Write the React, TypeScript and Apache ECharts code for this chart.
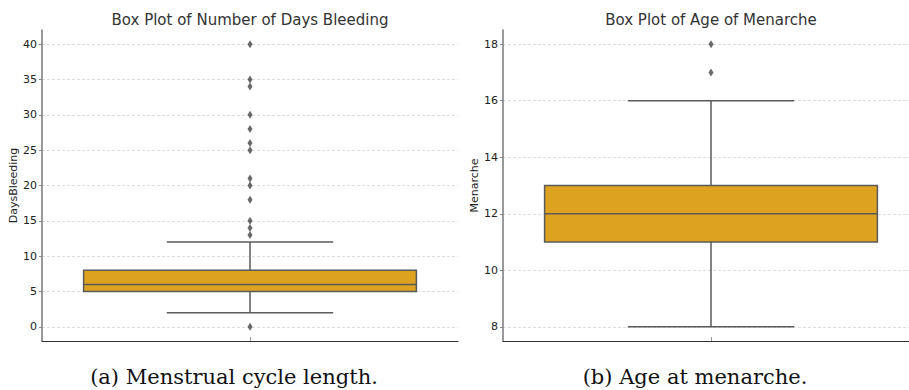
import React, { useEffect, useRef } from "react";
import * as echarts from "echarts";

// Five-number summaries: [lower whisker, Q1, median, Q3, upper whisker]
const daysCategories = ["DaysBleeding"];
const daysStats = [2, 5, 6, 8, 12];
const daysOutliers = [0, 13, 14, 15, 18, 20, 21, 25, 26, 28, 30, 34, 35, 40];
const daysTicks = [0, 5, 10, 15, 20, 25, 30, 35, 40];

const menCategories = ["Menarche"];
const menStats = [8, 11, 12, 13, 16];
const menOutliers = [17, 18];
const menTicks = [8, 10, 12, 14, 16, 18];

const titles = ["Box Plot of Number of Days Bleeding", "Box Plot of Age of Menarche"];
const captions = ["(a) Menstrual cycle length.", "(b) Age at menarche."];

const FONT = "DejaVu Sans";
const BOX_FILL = "#DDA21F";
const LINE = "#5a5a5a";

function renderBox(params: any, api: any) {
  const x = api.value(0);
  const lo = api.coord([x, api.value(1)]);
  const q1 = api.coord([x, api.value(2)]);
  const md = api.coord([x, api.value(3)]);
  const q3 = api.coord([x, api.value(4)]);
  const hi = api.coord([x, api.value(5)]);
  const band = api.size([1, 0])[0];
  const bh = band * 0.4;
  const ch = band * 0.2;
  const cx = md[0];
  const ls = { stroke: LINE, lineWidth: 1.5, fill: "none" };
  return {
    type: "group",
    children: [
      { type: "line", shape: { x1: cx, y1: lo[1], x2: cx, y2: q1[1] }, style: ls },
      { type: "line", shape: { x1: cx, y1: q3[1], x2: cx, y2: hi[1] }, style: ls },
      { type: "line", shape: { x1: cx - ch, y1: lo[1], x2: cx + ch, y2: lo[1] }, style: ls },
      { type: "line", shape: { x1: cx - ch, y1: hi[1], x2: cx + ch, y2: hi[1] }, style: ls },
      {
        type: "rect",
        shape: { x: cx - bh, y: q3[1], width: bh * 2, height: q1[1] - q3[1] },
        style: { fill: BOX_FILL, stroke: LINE, lineWidth: 1.5 },
      },
      { type: "line", shape: { x1: cx - bh, y1: md[1], x2: cx + bh, y2: md[1] }, style: ls },
    ],
  };
}

function makeY(gridIndex: number, min: number, max: number, ticks: number[], name: string) {
  return {
    type: "value",
    gridIndex,
    min,
    max,
    name,
    nameLocation: "middle",
    nameGap: 22,
    nameTextStyle: { fontFamily: FONT, fontSize: 11, color: "#222" },
    axisLine: { show: true, lineStyle: { color: "#777", width: 1.5 } },
    axisTick: { show: true, customValues: ticks, length: 3, lineStyle: { color: "#888" } },
    axisLabel: { customValues: ticks, fontFamily: FONT, fontSize: 11, color: "#222", margin: 5 },
    splitLine: { show: true, lineStyle: { color: "#d4d4d4", type: [3, 2], width: 0.8 } },
  };
}

function makeX(gridIndex: number, cats: string[]) {
  return {
    type: "category",
    gridIndex,
    data: cats,
    boundaryGap: true,
    axisLine: { show: true, onZero: false, lineStyle: { color: "#333", width: 1.2 } },
    axisTick: { show: true, alignWithLabel: true, inside: true, length: 4, lineStyle: { color: "#999" } },
    axisLabel: { show: false },
    splitLine: { show: false },
  };
}

export default function App() {
  const ref = useRef<HTMLDivElement>(null);
  useEffect(() => {
    if (!ref.current) return;
    const chart = echarts.init(ref.current, null, { renderer: "svg" });
    chart.setOption({
      animation: false,
      backgroundColor: "#fff",
      grid: [
        { left: 42, top: 30, width: 416, height: 311 },
        { left: 503, top: 30, width: 416, height: 311 },
      ],
      xAxis: [makeX(0, daysCategories), makeX(1, menCategories)],
      yAxis: [
        makeY(0, -2, 42, daysTicks, "DaysBleeding"),
        makeY(1, 7.5, 18.5, menTicks, "Menarche"),
      ],
      series: [
        {
          type: "custom",
          xAxisIndex: 0,
          yAxisIndex: 0,
          renderItem: renderBox,
          encode: { x: 0, y: [1, 2, 3, 4, 5] },
          data: [[0, ...daysStats]],
          z: 3,
        },
        {
          type: "scatter",
          xAxisIndex: 0,
          yAxisIndex: 0,
          symbol: "diamond",
          symbolSize: [5, 8],
          itemStyle: { color: "#444" },
          data: daysOutliers.map((v) => [0, v]),
          z: 4,
        },
        {
          type: "custom",
          xAxisIndex: 1,
          yAxisIndex: 1,
          renderItem: renderBox,
          encode: { x: 0, y: [1, 2, 3, 4, 5] },
          data: [[0, ...menStats]],
          z: 3,
        },
        {
          type: "scatter",
          xAxisIndex: 1,
          yAxisIndex: 1,
          symbol: "diamond",
          symbolSize: [5, 8],
          itemStyle: { color: "#444" },
          data: menOutliers.map((v) => [0, v]),
          z: 4,
        },
      ],
      graphic: [
        {
          type: "text",
          x: 250,
          y: 20,
          style: { text: titles[0], fontFamily: FONT, fontSize: 15, fill: "#333", textAlign: "center", textVerticalAlign: "middle" },
        },
        {
          type: "text",
          x: 711,
          y: 20,
          style: { text: titles[1], fontFamily: FONT, fontSize: 15, fill: "#333", textAlign: "center", textVerticalAlign: "middle" },
        },
        {
          type: "text",
          x: 234,
          y: 377,
          style: { text: captions[0], fontFamily: "DejaVu Serif", fontSize: 21, fill: "#111", textAlign: "center", textVerticalAlign: "middle" },
        },
        {
          type: "text",
          x: 695,
          y: 377,
          style: { text: captions[1], fontFamily: "DejaVu Serif", fontSize: 21, fill: "#111", textAlign: "center", textVerticalAlign: "middle" },
        },
      ],
    });
    return () => chart.dispose();
  }, []);
  return (
    <div
      style={{ position: "absolute", left: 0, top: 0, width: 909, height: 390, overflow: "hidden" }}
    >
      <div ref={ref} style={{ width: 919, height: 390 }} />
    </div>
  );
}
